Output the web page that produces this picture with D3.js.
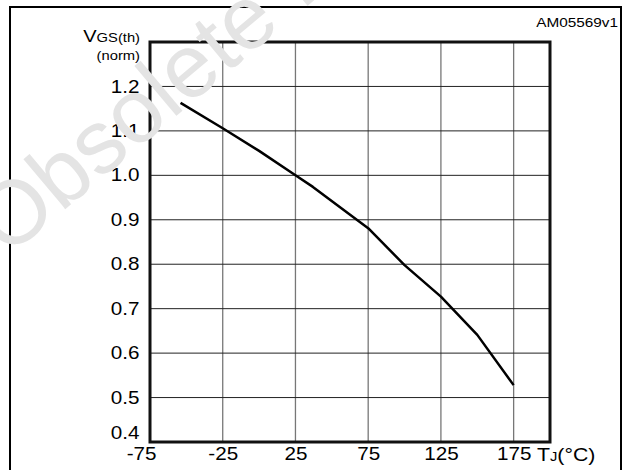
<!DOCTYPE html>
<html>
<head>
<meta charset="utf-8">
<script src="https://cdn.jsdelivr.net/npm/d3@7"></script>
<style>
  body { margin: 0; background: #fff; }
  text { font-family: "Liberation Sans", Arial, sans-serif; }
</style>
</head>
<body>
<div id="chart"></div>
<script>
// junction temperature (°C) and normalized VGS(th)
const tempC = [-54, -25, 0, 25, 37, 75, 100, 125, 150, 175];
const vgsNorm = [1.163, 1.106, 1.055, 1.0, 0.974, 0.881, 0.798, 0.727, 0.641, 0.528];

const xTicks = [-75, -25, 25, 75, 125, 175];
const yTicks = [0.4, 0.5, 0.6, 0.7, 0.8, 0.9, 1.0, 1.1, 1.2];
const xGrid = [-25, 25, 75, 125, 175];
const yGrid = [0.5, 0.6, 0.7, 0.8, 0.9, 1.0, 1.1, 1.2];

const outerWidth = 628;
const outerHeight = 470;
const margin = {top: 42, right: 78, bottom: 28, left: 150};
const width = outerWidth - margin.left - margin.right;
const height = outerHeight - margin.top - margin.bottom;
// the source lettering is a bit wider than Arial
const stretch = ' scale(1.18,1)';

const svg = d3.select('#chart')
  .append('svg')
  .attr('width', outerWidth)
  .attr('height', outerHeight);

// outer frame
svg.append('rect')
  .attr('x', 10).attr('y', 7)
  .attr('width', 611).attr('height', 475)
  .attr('fill', 'none')
  .attr('stroke', '#000')
  .attr('stroke-width', 2);

svg.append('text')
  .attr('transform', 'translate(618,27)' + stretch)
  .attr('text-anchor', 'end')
  .attr('font-size', '13px')
  .text('AM05569v1');

const g = svg.append('g')
  .attr('transform', 'translate(' + margin.left + ',' + margin.top + ')');

const x = d3.scaleLinear().domain([-75, 200]).range([0, width]);
const y = d3.scaleLinear().domain([0.4, 1.3]).range([height, 0]);

// grid
g.append('g')
  .selectAll('line')
  .data(xGrid)
  .enter()
  .append('line')
  .attr('x1', d => x(d)).attr('x2', d => x(d))
  .attr('y1', 0).attr('y2', height)
  .attr('stroke', '#777')
  .attr('stroke-width', 1.3);

g.append('g')
  .selectAll('line')
  .data(yGrid)
  .enter()
  .append('line')
  .attr('x1', 0).attr('x2', width)
  .attr('y1', d => y(d)).attr('y2', d => y(d))
  .attr('stroke', '#222')
  .attr('stroke-width', 1);

// axes (labels only, frame drawn separately)
g.append('g')
  .attr('transform', 'translate(0,' + height + ')')
  .call(d3.axisBottom(x).tickValues(xTicks).tickSize(0).tickPadding(6).tickFormat(d => String(d)))
  .call(a => a.select('.domain').remove())
  .call(a => a.selectAll('text')
    .attr('font-size', '17.5px').attr('font-family', null).attr('fill', '#000')
    .attr('transform', stretch))
  .call(a => a.select('.tick:first-of-type text').attr('dx', -7.5));

g.append('g')
  .call(d3.axisLeft(y).tickValues(yTicks).tickSize(0).tickPadding(9).tickFormat(d3.format('.1f')))
  .call(a => a.select('.domain').remove())
  .call(a => a.selectAll('text')
    .attr('font-size', '17.5px').attr('font-family', null).attr('fill', '#000')
    .attr('transform', stretch))
  .call(a => a.select('.tick:first-of-type text').attr('dy', '-0.18em'));

g.append('rect')
  .attr('width', width).attr('height', height)
  .attr('fill', 'none')
  .attr('stroke', '#111')
  .attr('stroke-width', 3);

const line = d3.line()
  .x((d, i) => x(tempC[i]))
  .y(d => y(d));

g.append('path')
  .attr('d', line(vgsNorm))
  .attr('fill', 'none')
  .attr('stroke', '#000')
  .attr('stroke-width', 2.5)
  .attr('stroke-linejoin', 'round');

// axis titles
const yTitle = svg.append('text')
  .attr('transform', 'translate(140,42)' + stretch)
  .attr('text-anchor', 'end');
yTitle.append('tspan').attr('font-size', '17px').text('V');
yTitle.append('tspan').attr('font-size', '12.5px').text('GS(th)');

svg.append('text')
  .attr('transform', 'translate(140,60)' + stretch)
  .attr('text-anchor', 'end')
  .attr('font-size', '12.5px')
  .text('(norm)');

const xTitle = svg.append('text')
  .attr('transform', 'translate(537,461)' + stretch);
xTitle.append('tspan').attr('font-size', '18px').text('T');
xTitle.append('tspan').attr('font-size', '12.5px').text('J');
xTitle.append('tspan').attr('font-size', '18px').text('(°C)');

// watermark
svg.append('text')
  .attr('transform', 'translate(7,258) rotate(-40)')
  .attr('font-size', '90px')
  .attr('fill', '#e4e4e4')
  .text('Obsolete Product(s)');
</script>
</body>
</html>
